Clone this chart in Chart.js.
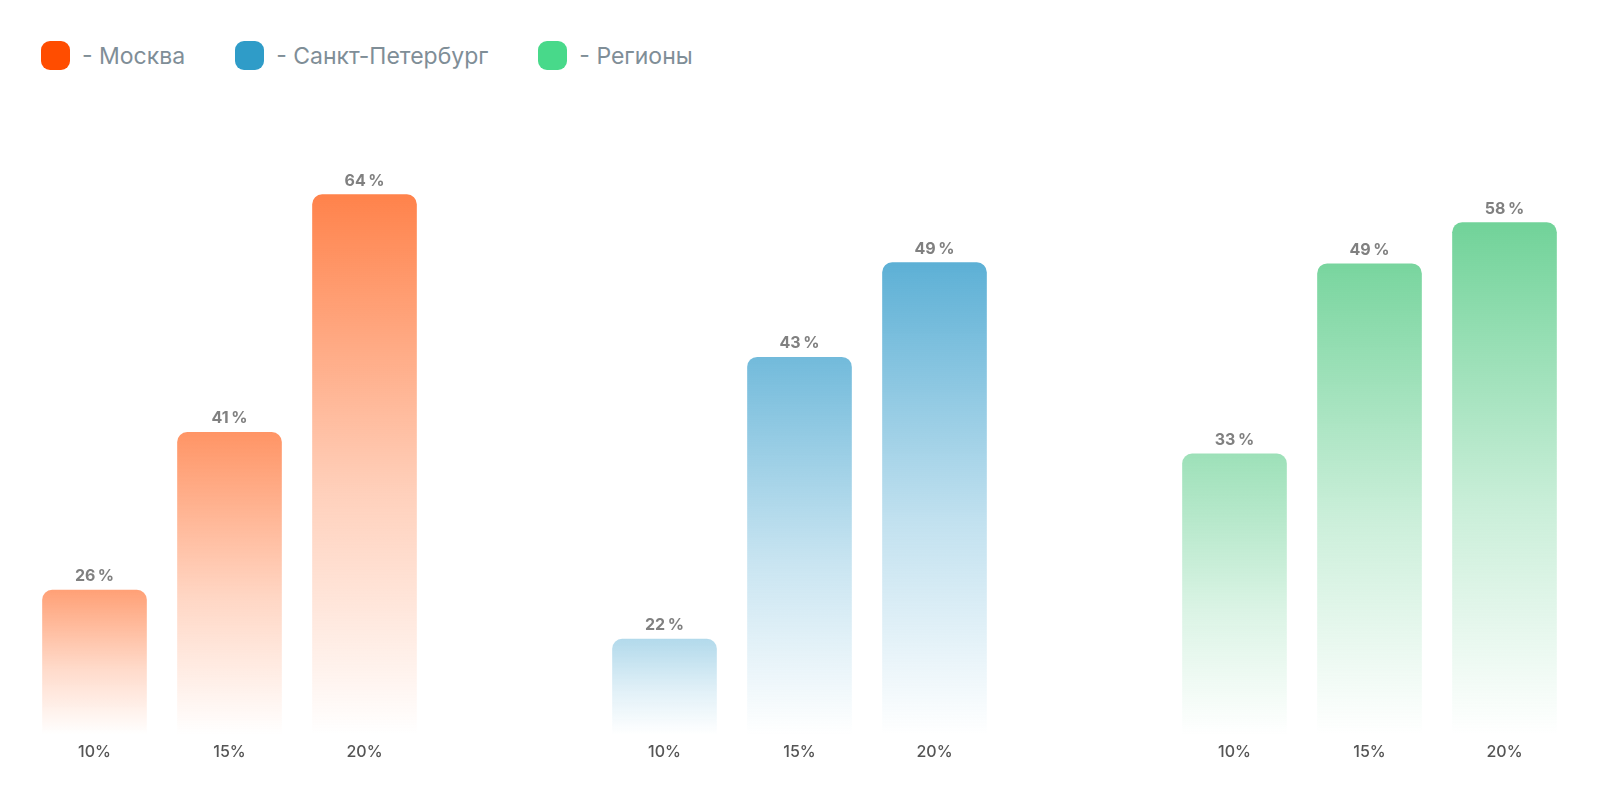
<!DOCTYPE html>
<html>
<head>
<meta charset="utf-8">
<script src="https://cdn.jsdelivr.net/npm/chart.js@4"></script>
<style>
  html, body { margin: 0; padding: 0; background: #ffffff; }
  body { width: 1600px; height: 802px; position: relative; overflow: hidden; }
  .legend { position: absolute; top: 41px; left: 41px; height: 29px; display: flex; align-items: center;
            font-family: Inter, "Noto Sans", sans-serif; font-size: 23px; color: #7f8e97; }
  .legend .item { display: flex; align-items: center; margin-right: 50px; }
  .legend .sw { width: 29px; height: 29px; border-radius: 9px; margin-right: 12px; }
  .box { position: absolute; top: 150px; width: 405px; height: 620px; }
</style>
</head>
<body>
<div class="legend" id="legend"></div>
<div class="box" style="left:27px"><canvas id="c0"></canvas></div>
<div class="box" style="left:597px"><canvas id="c1"></canvas></div>
<div class="box" style="left:1167px"><canvas id="c2"></canvas></div>
<script>
// ---- data ----
const categories = ['10%', '15%', '20%'];
const seriesNames = ['Москва', 'Санкт-Петербург', 'Регионы'];
// relative bar heights as drawn (tallest bar = 100)
const moscowHeights = [26.8, 56.0, 100];
const spbHeights = [17.7, 69.9, 87.4];
const regionsHeights = [52.0, 87.2, 94.8];
// percentage values printed above the bars
const moscowValues = [26, 41, 64];
const spbValues = [22, 43, 49];
const regionsValues = [33, 49, 58];

// ---- styles ----
const legendColors = ['#ff4d00', '#2f9cc8', '#48d98a'];
const barBase = [[255, 120, 60], [60, 160, 205], [95, 205, 140]];
const alphaRule = [[0.62, 0.30], [0.28, 0.63], [0.28, 0.64]];

const legend = document.getElementById('legend');
seriesNames.forEach((n, i) => {
  const it = document.createElement('div'); it.className = 'item';
  const sw = document.createElement('div'); sw.className = 'sw'; sw.style.background = legendColors[i];
  const tx = document.createElement('span'); tx.textContent = '- ' + n;
  it.appendChild(sw); it.appendChild(tx); legend.appendChild(it);
});

const valueLabels = {
  id: 'valueLabels',
  afterDatasetsDraw(chart, args, opts) {
    const meta = chart.getDatasetMeta(0);
    const ctx = chart.ctx;
    ctx.save();
    ctx.font = '700 16px Inter, "Noto Sans", sans-serif';
    ctx.fillStyle = '#808080';
    ctx.textAlign = 'center';
    ctx.textBaseline = 'alphabetic';
    meta.data.forEach((bar, i) => {
      ctx.fillText(opts.values[i] + '\u2009%', bar.x, bar.y - 9);
    });
    ctx.restore();
  }
};

function makeChart(id, name, heights, values, k) {
  const base = barBase[k];
  const rule = alphaRule[k];
  new Chart(document.getElementById(id), {
    type: 'bar',
    data: {
      labels: categories,
      datasets: [{
        label: name,
        data: heights,
        backgroundColor: (ctx) => {
          const chart = ctx.chart;
          if (!chart.chartArea || ctx.type !== 'data') return 'rgba(' + base.join(',') + ',0.6)';
          const ys = chart.scales.y;
          const v = ctx.parsed.y;
          const top = ys.getPixelForValue(v);
          const bot = ys.getPixelForValue(0);
          const a = Math.min(0.95, rule[0] + rule[1] * v / 100);
          const g = chart.ctx.createLinearGradient(0, top, 0, bot);
          g.addColorStop(0, 'rgba(' + base.join(',') + ',' + a + ')');
          g.addColorStop(0.55, 'rgba(' + base.join(',') + ',' + (a * 0.38) + ')');
          g.addColorStop(1, 'rgba(' + base.join(',') + ',0)');
          return g;
        },
        borderWidth: 0,
        borderRadius: 10,
        borderSkipped: 'start',
        barThickness: 104
      }]
    },
    options: {
      responsive: true,
      maintainAspectRatio: false,
      animation: false,
      layout: { padding: { top: 23, bottom: 0, left: 0, right: 0 } },
      plugins: {
        legend: { display: false },
        tooltip: { enabled: false },
        valueLabels: { values: values }
      },
      scales: {
        x: {
          grid: { display: false, drawTicks: false },
          border: { display: false },
          ticks: { color: '#555555', padding: 8, font: { family: 'Inter, "Noto Sans", sans-serif', size: 16, weight: '500' } }
        },
        y: {
          display: false,
          min: 0,
          max: 104.0
        }
      }
    },
    plugins: [valueLabels]
  });
}

makeChart('c0', seriesNames[0], moscowHeights, moscowValues, 0);
makeChart('c1', seriesNames[1], spbHeights, spbValues, 1);
makeChart('c2', seriesNames[2], regionsHeights, regionsValues, 2);
</script>
</body>
</html>
